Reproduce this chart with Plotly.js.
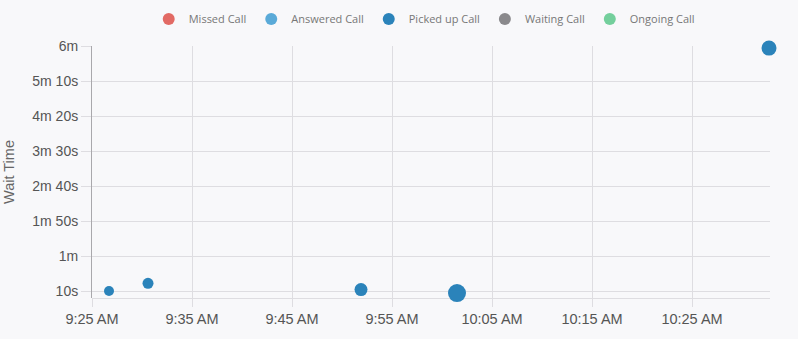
<!DOCTYPE html>
<html>
<head>
<meta charset="utf-8">
<script src="https://cdn.plot.ly/plotly-3.0.1.min.js"></script>
<style>
  html, body { margin: 0; padding: 0; background: #f8f8fa; }
  #chart { width: 798px; height: 339px; }
</style>
</head>
<body>
<div id="chart"></div>
<script>
// ---- data ----
const seriesNames = ["Missed Call", "Answered Call", "Picked up Call", "Waiting Call", "Ongoing Call"];
const pickedTimes = ["2024-01-01 09:26:42", "2024-01-01 09:30:36", "2024-01-01 09:51:54", "2024-01-01 10:01:30", "2024-01-01 10:32:42"];
const pickedWait = [10, 21, 12, 7, 357];  // seconds
const pickedBubble = [10, 11, 13, 18, 15];
const yTickVals = [10, 60, 110, 160, 210, 260, 310, 360];
const yTickText = ["10s", "1m", "1m 50s", "2m 40s", "3m 30s", "4m 20s", "5m 10s", "6m"];
const xTickVals = ["2024-01-01 09:25", "2024-01-01 09:35", "2024-01-01 09:45", "2024-01-01 09:55", "2024-01-01 10:05", "2024-01-01 10:15", "2024-01-01 10:25"];
const xTickText = ["9:25 AM", "9:35 AM", "9:45 AM", "9:55 AM", "10:05 AM", "10:15 AM", "10:25 AM"];

const colors = ["#e26a64", "#5aaad8", "#2b83ba", "#8a898c", "#74cf9c"];

const traces = seriesNames.map((name, i) => {
  const isPicked = name === "Picked up Call";
  return {
    type: "scatter",
    mode: "markers",
    name: name,
    x: isPicked ? pickedTimes : [null],
    y: isPicked ? pickedWait : [null],
    cliponaxis: false,
    marker: { color: colors[i], size: isPicked ? pickedBubble : 12, opacity: 1, line: { width: 0 } },
    hoverinfo: "x+y+name"
  };
});

const layout = {
  width: 798, height: 339,
  paper_bgcolor: "#f8f8fa",
  plot_bgcolor: "#f8f8fa",
  margin: { l: 92, r: 28, t: 46, b: 41, autoexpand: false },
  font: { family: "Liberation Sans, Arial, sans-serif", color: "#555", size: 14 },
  showlegend: true,
  legend: {
    orientation: "h", x: 0.49, xanchor: "center", y: 1.107, yanchor: "middle",
    font: { family: "Open Sans, sans-serif", size: 11, color: "#777" },
    itemsizing: "constant", bgcolor: "rgba(0,0,0,0)", itemwidth: 30
  },
  xaxis: {
    type: "date", automargin: false,
    range: ["2024-01-01 09:25:00", "2024-01-01 10:32:48"],
    tickmode: "array", tickvals: xTickVals, ticktext: xTickText,
    showgrid: true, gridcolor: "#dedde1", gridwidth: 1,
    zeroline: false, showline: false,
    ticks: "outside", ticklen: 8, tickcolor: "#dedde1",
    tickfont: { size: 14.5, color: "#555" }
  },
  yaxis: {
    range: [0, 360], automargin: false,
    tickmode: "array", tickvals: yTickVals, ticktext: yTickText,
    showgrid: true, gridcolor: "#dedde1", gridwidth: 1,
    zeroline: true, zerolinecolor: "#dedde1", zerolinewidth: 1,
    showline: true, linecolor: "#a9a8ac", linewidth: 1,
    ticks: "outside", ticklen: 10, tickcolor: "#dedde1",
    tickfont: { size: 14, color: "#555" },
    title: { text: "Wait Time", font: { size: 14.5, color: "#666" }, standoff: 14 }
  }
};

Plotly.newPlot("chart", traces, layout, { displayModeBar: false });
</script>
</body>
</html>
